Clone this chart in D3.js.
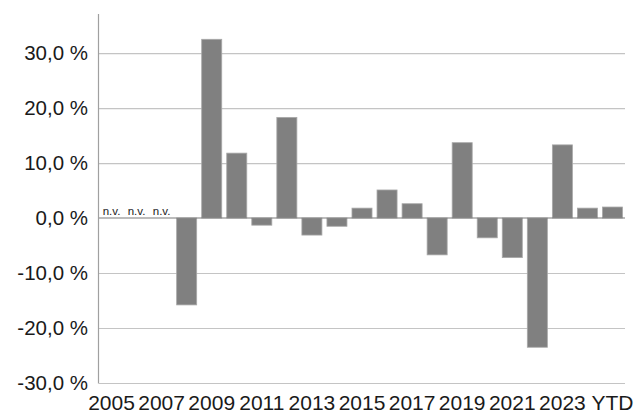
<!DOCTYPE html>
<html>
<head>
<meta charset="utf-8">
<script src="https://cdn.jsdelivr.net/npm/d3@7"></script>
<style>
  html, body { margin: 0; padding: 0; background: #fff; }
  svg { display: block; font-family: "Liberation Sans", Arial, sans-serif; }
</style>
</head>
<body>
<svg id="chart" width="643" height="414"></svg>
<script>
// Annual returns (%), null = not available
const categories = ["2005","2006","2007","2008","2009","2010","2011","2012","2013","2014",
                    "2015","2016","2017","2018","2019","2020","2021","2022","2023","2024","YTD"];
const values = [null, null, null, -15.8, 32.5, 11.8, -1.3, 18.3, -3.1, -1.5,
                1.8, 5.1, 2.6, -6.7, 13.7, -3.6, -7.2, -23.5, 13.3, 1.8, 2.0];
const tickLabels = ["2005","2007","2009","2011","2013","2015","2017","2019","2021","2023","YTD"];
const yTicks = [-30, -20, -10, 0, 10, 20, 30];
const missingLabel = "n.v.";

const svg = d3.select("#chart");
const plotLeft = 99, plotRight = 625, plotTop = 14, plotBottom = 383;

const x = d3.scaleBand().domain(categories).range([plotLeft, plotRight]).paddingInner(0.2).paddingOuter(0.1);
const y = d3.scaleLinear().domain([-30, 37.1]).range([plotBottom, plotTop]);

const fmt = v => d3.format(".1f")(v).replace(".", ",").replace("−", "-") + " %";

// horizontal gridlines
svg.append("g").selectAll("line").data(yTicks.filter(t => t !== 0)).join("line")
  .attr("x1", plotLeft).attr("x2", plotRight)
  .attr("y1", d => y(d) + 0.5).attr("y2", d => y(d) + 0.5)
  .attr("stroke", "#c4c4c4").attr("stroke-width", 1.2);

// y axis labels
const yAxis = d3.axisLeft(y).tickValues(yTicks).tickFormat(fmt).tickSize(0).tickPadding(11);
const gy = svg.append("g").attr("transform", `translate(${plotLeft},0)`).call(yAxis);
gy.select(".domain").remove();
gy.selectAll("text").attr("font-size", 20.5).attr("fill", "#1a1a1a")
  .attr("font-family", "Liberation Sans, Arial, sans-serif");

// bars
const bw = x.bandwidth();
const rows = categories.map((c, i) => ({c, v: values[i]}));
svg.append("g").selectAll("rect").data(rows.filter(d => d.v !== null))
  .join("rect")
  .attr("x", d => x(d.c))
  .attr("y", d => y(Math.max(0, d.v)))
  .attr("width", bw)
  .attr("height", d => Math.abs(y(d.v) - y(0)))
  .attr("fill", "#808080")
  .attr("stroke", "#a8a8a8").attr("stroke-width", 0.8);

// labels for unavailable values
svg.append("g").selectAll("text").data(rows.filter(d => d.v === null))
  .join("text")
  .attr("x", d => x(d.c) + bw / 2)
  .attr("y", y(0) - 3)
  .attr("text-anchor", "middle")
  .attr("font-size", 11.5)
  .attr("fill", "#1a1a1a")
  .text(missingLabel);

// zero line
svg.append("line").attr("x1", plotLeft).attr("x2", plotRight)
  .attr("y1", y(0)).attr("y2", y(0))
  .attr("stroke", "#7a7a7a").attr("stroke-width", 1.2);

// left axis line
svg.append("line").attr("x1", plotLeft - 0.5).attr("x2", plotLeft - 0.5)
  .attr("y1", plotTop).attr("y2", plotBottom + 0.5)
  .attr("stroke", "#a0a0a0").attr("stroke-width", 1.2);

// x axis labels
const xAxis = d3.axisBottom(x).tickValues(tickLabels).tickSize(0).tickPadding(0);
const gx = svg.append("g").attr("transform", `translate(0,${plotBottom})`).call(xAxis);
gx.select(".domain").remove();
gx.selectAll("text").attr("font-size", 21).attr("fill", "#1a1a1a")
  .attr("font-family", "Liberation Sans, Arial, sans-serif")
  .attr("dy", null).attr("y", 27);
</script>
</body>
</html>
